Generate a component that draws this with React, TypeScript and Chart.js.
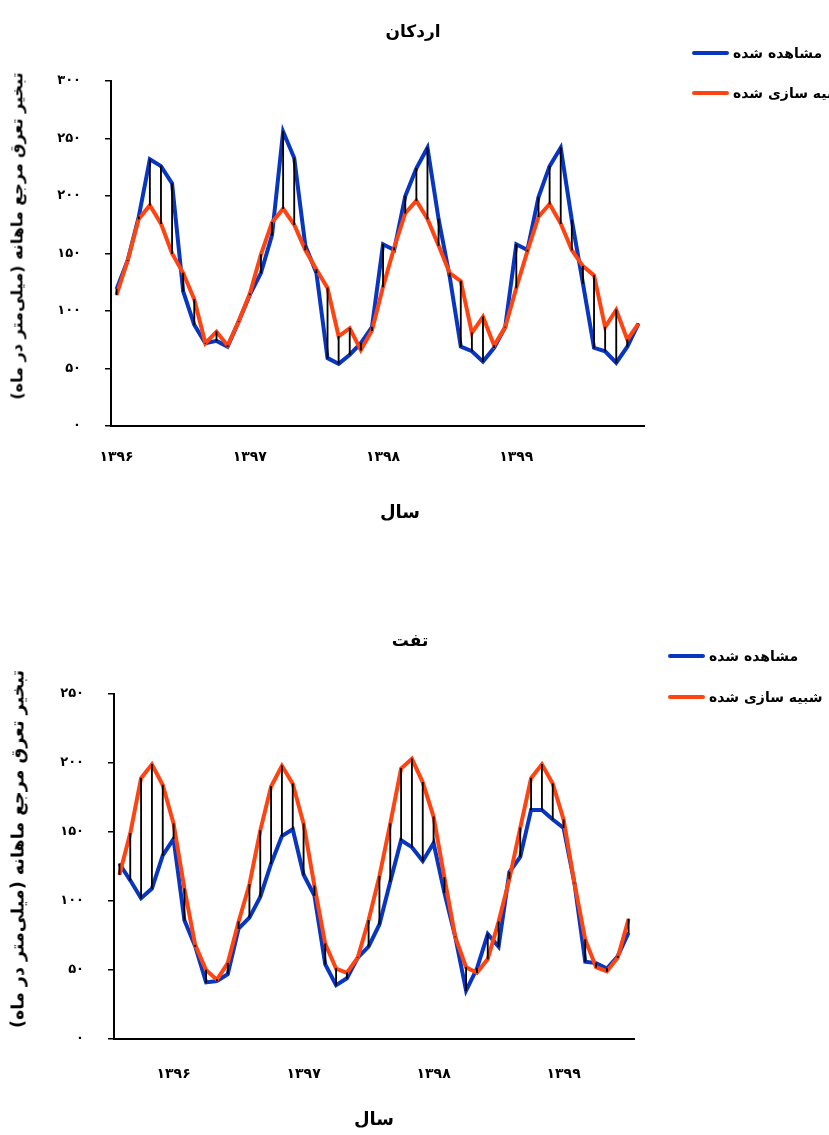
import React, { useEffect, useRef } from 'react';
import { Chart, registerables } from 'chart.js';

Chart.register(...registerables);

// ---------- data ----------
const yearLabels = ['۱۳۹۶', '۱۳۹۷', '۱۳۹۸', '۱۳۹۹'];
const ardakanYearTickAt = [0, 12, 24, 36];
const taftYearTickAt = [5, 17, 29, 41];

const ardakanObserved = [
  119, 144, 182, 232, 226, 211, 117, 88, 72, 74, 69, 91,
  114, 133, 166, 256, 233, 157, 133, 59, 54, 62, 72, 86,
  158, 153, 200, 224, 242, 180, 130, 69, 65, 56, 68, 86,
  158, 153, 199, 226, 242, 179, 124, 68, 65, 55, 69, 89,
];
const ardakanSimulated = [
  114, 144, 180, 192, 176, 150, 133, 110, 72, 82, 70, 91,
  115, 149, 177, 189, 175, 153, 136, 120, 78, 85, 66, 83,
  121, 155, 185, 196, 180, 157, 133, 126, 81, 95, 70, 86,
  120, 152, 182, 193, 176, 153, 139, 131, 86, 101, 75, 89,
];
const taftObserved = [
  127, 115, 102, 109, 133, 145, 86, 67, 41, 42, 47, 80,
  88, 103, 127, 147, 152, 119, 104, 54, 39, 44, 59, 67,
  83, 114, 144, 139, 129, 142, 106, 74, 35, 51, 76, 67,
  121, 132, 166, 166, 159, 153, 113, 56, 55, 51, 60, 77,
];
const taftSimulated = [
  119, 149, 189, 199, 184, 156, 109, 68, 50, 43, 55, 85,
  112, 151, 183, 198, 185, 156, 111, 69, 51, 48, 59, 86,
  118, 156, 196, 203, 186, 161, 117, 74, 52, 48, 58, 85,
  116, 153, 189, 199, 185, 159, 113, 72, 52, 49, 59, 87,
];

const observedLabel = 'مشاهده شده';
const simulatedLabel = 'شبیه سازی شده';
const yTitle = 'تبخیر تعرق مرجع ماهانه (میلی‌متر در ماه)';
const xTitle = 'سال';

// ---------- styles ----------
const BLUE = '#0836c1';
const ORANGE = '#ff4411';
const FONT = "'DejaVu Sans', sans-serif";
const W = 829;

const toFa = (v: number | string) =>
  String(v).replace(/\d/g, (d) => '۰۱۲۳۴۵۶۷۸۹'[Number(d)]);

Chart.defaults.font.family = FONT;

type Area = { left: number; right: number; top: number; bottom: number };

function PlotCanvas(props: {
  observed: number[];
  simulated: number[];
  yMax: number;
  yearAt: number[];
  area: Area;
  height: number;
  top: number;
  xPad: number;
}) {
  const ref = useRef<HTMLCanvasElement>(null);
  useEffect(() => {
    const { observed, simulated, yMax, yearAt, area, height, xPad } = props;
    const chart = new Chart(ref.current as HTMLCanvasElement, {
      type: 'line',
      data: {
        datasets: [
          {
            type: 'bar',
            label: 'hl',
            data: observed.map((v, i) => ({ x: i, y: [v, simulated[i]] })) as any,
            backgroundColor: '#000',
            borderWidth: 0,
            barThickness: 1.2,
            order: 0,
          } as any,
          {
            label: observedLabel,
            data: observed.map((v, i) => ({ x: i, y: v })),
            borderColor: BLUE,
            backgroundColor: BLUE,
            borderWidth: 4,
            pointRadius: 0,
            tension: 0,
            order: 2,
          },
          {
            label: simulatedLabel,
            data: simulated.map((v, i) => ({ x: i, y: v })),
            borderColor: ORANGE,
            backgroundColor: ORANGE,
            borderWidth: 4,
            pointRadius: 0,
            tension: 0,
            order: 1,
          },
        ],
      },
      options: {
        responsive: false,
        animation: false,
        events: [],
        layout: { padding: { left: 0, top: area.top, right: W - area.right, bottom: 0 } },
        plugins: {
          legend: { display: false },
          tooltip: { enabled: false },
          title: { display: false },
        },
        scales: {
          x: {
            type: 'linear',
            min: -0.5,
            max: 47.5,
            offset: false,
            afterBuildTicks: (s: any) => {
              s.ticks = yearAt.map((v) => ({ value: v }));
            },
            afterFit: (s: any) => {
              s.height = height - area.bottom;
            },
            ticks: {
              callback: (_v: any, i: number) => yearLabels[i],
              padding: xPad,
              color: '#000',
              font: { size: 14, weight: 'bold', family: FONT },
              maxRotation: 0,
              autoSkip: false,
            },
            grid: { display: false, drawTicks: false, offset: false },
            border: { display: true, color: '#000', width: 2 },
          },
          y: {
            min: 0,
            max: yMax,
            afterFit: (s: any) => {
              s.width = area.left;
            },
            ticks: {
              stepSize: 50,
              callback: (v: any) => toFa(v),
              padding: 24,
              color: '#000',
              font: { size: 13, weight: 'bold', family: FONT },
            },
            grid: { drawOnChartArea: false, tickLength: 6, color: '#000', lineWidth: 1.5 },
            border: { display: true, color: '#000', width: 2 },
          },
        },
      } as any,
    });
    return () => chart.destroy();
  }, []);
  return (
    <canvas
      ref={ref}
      width={W}
      height={props.height}
      style={{ position: 'absolute', left: 0, top: props.top, width: W, height: props.height }}
    />
  );
}

function Txt(props: { x: number; y: number; size: number; text: string; rotate?: boolean; anchor?: 'center' | 'left' }) {
  const { x, y, size, text, rotate, anchor = 'center' } = props;
  const transform =
    anchor === 'left'
      ? 'translate(0,-50%)'
      : `translate(-50%,-50%)${rotate ? ' rotate(-90deg)' : ''}`;
  return (
    <div
      dir="rtl"
      style={{
        position: 'absolute',
        left: x,
        top: y,
        transform,
        whiteSpace: 'nowrap',
        fontSize: size,
        fontWeight: 'bold',
        fontFamily: FONT,
        color: '#000',
        lineHeight: 1.2,
      }}
    >
      {text}
    </div>
  );
}

function LegendLine(props: { x: number; y: number; color: string }) {
  return (
    <div
      style={{
        position: 'absolute',
        left: props.x,
        top: props.y - 2,
        width: 37,
        height: 4,
        borderRadius: 2,
        background: props.color,
      }}
    />
  );
}

export default function App() {
  return (
    <div
      style={{
        position: 'absolute',
        left: 0,
        top: 0,
        width: W,
        height: 1135,
        overflow: 'hidden',
        background: '#fff',
      }}
    >
      {/* Ardakan */}
      <PlotCanvas
        observed={ardakanObserved}
        simulated={ardakanSimulated}
        yMax={300}
        yearAt={ardakanYearTickAt}
        area={{ left: 111, right: 644, top: 81, bottom: 426 }}
        height={560}
        top={0}
        xPad={23}
      />
      <Txt x={413} y={31} size={17} text="اردکان" />
      <LegendLine x={692} y={53} color={BLUE} />
      <Txt x={733} y={53} size={14} text={observedLabel} anchor="left" />
      <LegendLine x={692} y={93} color={ORANGE} />
      <Txt x={733} y={93} size={14} text={simulatedLabel} anchor="left" />
      <Txt x={400} y={512} size={18} text={xTitle} />
      <Txt x={17} y={236} size={16} text={yTitle} rotate />

      {/* Taft */}
      <PlotCanvas
        observed={taftObserved}
        simulated={taftSimulated}
        yMax={250}
        yearAt={taftYearTickAt}
        area={{ left: 114, right: 634, top: 134, bottom: 479 }}
        height={575}
        top={560}
        xPad={27}
      />
      <Txt x={410} y={640} size={17} text="تفت" />
      <LegendLine x={668} y={656} color={BLUE} />
      <Txt x={709} y={656} size={14} text={observedLabel} anchor="left" />
      <LegendLine x={668} y={697} color={ORANGE} />
      <Txt x={709} y={697} size={14} text={simulatedLabel} anchor="left" />
      <Txt x={374} y={1119} size={18} text={xTitle} />
      <Txt x={18} y={849} size={17.5} text={yTitle} rotate />
    </div>
  );
}
